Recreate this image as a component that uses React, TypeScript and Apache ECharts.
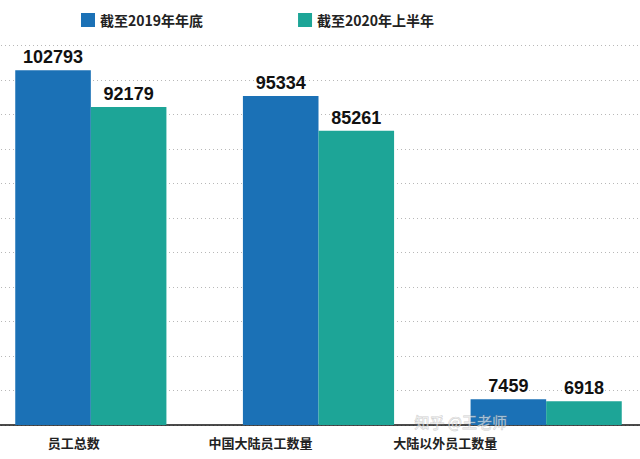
import React, { useEffect, useRef } from "react";
import * as echarts from "echarts";

const categories = ["员工总数", "中国大陆员工数量", "大陆以外员工数量"];
const seriesNames = ["截至2019年年底", "截至2020年上半年"];
const values2019 = [102793, 95334, 7459];
const values2020 = [92179, 85261, 6918];
const colors = ["#1b71b6", "#1da597"];
// the reference's category labels sit left of their group centres
const labelRightPads = [34, 116, 202];

export default function App() {
  const ref = useRef<HTMLDivElement>(null);
  useEffect(() => {
    const chart = echarts.init(ref.current!, undefined, { renderer: "svg" });
    const labelStyle = {
      show: true,
      position: "top" as const,
      distance: 4,
      color: "#111",
      fontSize: 18,
      fontWeight: "bold" as const,
      fontFamily: "Liberation Sans, Arial, sans-serif",
    };
    chart.setOption({
      animation: false,
      backgroundColor: "#ffffff",
      legend: {
        left: 76,
        top: 8,
        itemWidth: 14,
        itemHeight: 14,
        itemGap: 95,
        icon: "rect",
        textStyle: {
          fontSize: 14,
          fontWeight: "bold",
          color: "#222",
          fontFamily: "Noto Sans CJK SC, sans-serif",
        },
        data: seriesNames,
      },
      grid: {
        left: -23,
        right: -20,
        top: 45.5,
        bottom: 34,
        containLabel: false,
        outerBoundsMode: "none",
      },
      xAxis: {
        type: "category",
        data: categories.map((c, i) => ({
          value: c,
          textStyle: { padding: [0, labelRightPads[i], 0, 0] },
        })),
        axisLine: { show: true, lineStyle: { color: "#111", width: 1.5 } },
        axisTick: { show: false },
        axisLabel: {
          margin: 11,
          fontSize: 13,
          fontWeight: "bold",
          color: "#222",
          fontFamily: "Noto Sans CJK SC, sans-serif",
        },
      },
      yAxis: {
        type: "value",
        min: 0,
        max: 110000,
        interval: 10000,
        axisLabel: { show: false },
        axisLine: { show: false },
        axisTick: { show: false },
        splitLine: { show: true, lineStyle: { color: "#b8b8b8", type: [1, 3], width: 1 } },
      },
      series: [
        {
          name: seriesNames[0],
          type: "bar",
          data: values2019,
          itemStyle: { color: colors[0] },
          barGap: "0%",
          barCategoryGap: "33.6%",
          label: labelStyle,
        },
        {
          name: seriesNames[1],
          type: "bar",
          data: values2020,
          itemStyle: { color: colors[1] },
          barGap: "0%",
          barCategoryGap: "33.6%",
          label: labelStyle,
        },
      ],
      graphic: [
        {
          type: "text",
          left: 414,
          top: 414,
          z: 100,
          style: {
            text: "知乎 @王老师",
            fontSize: 15,
            fontFamily: "Noto Sans CJK SC, sans-serif",
            fill: "rgba(255,255,255,0.55)",
            stroke: "rgba(140,140,140,0.45)",
            lineWidth: 0.8,
          },
        },
      ],
    });
    return () => chart.dispose();
  }, []);
  return <div ref={ref} style={{ width: 640, height: 459, position: "absolute", left: 0, top: 0 }} />;
}
